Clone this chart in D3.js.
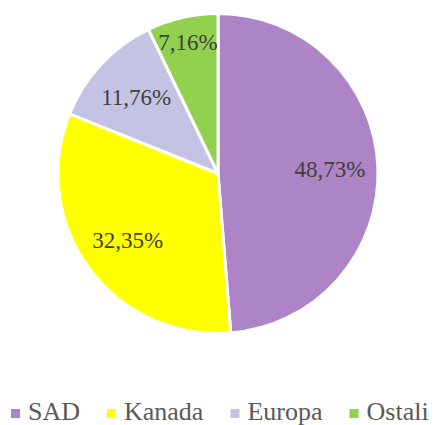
<!DOCTYPE html>
<html>
<head>
<meta charset="utf-8">
<script src="https://cdn.jsdelivr.net/npm/d3@7"></script>
<style>
  body { margin: 0; background: #fff; }
  svg { display: block; }
  svg text { font-family: 'Liberation Serif', serif !important; }
</style>
</head>
<body>
<svg width="438" height="425">
  <g id="pie" transform="translate(218,173.5)">
    <g class="slices"></g>
    <g class="labels">
      <text font-family="Liberation Serif" font-size="23">0</text>
      <text font-family="Liberation Serif" font-size="23">0</text>
      <text font-family="Liberation Serif" font-size="23">0</text>
      <text font-family="Liberation Serif" font-size="23">0</text>
    </g>
  </g>
  <g id="legend" transform="translate(11,0)">
    <g class="item"><rect></rect><text font-family="Liberation Serif" font-size="26">A</text></g>
    <g class="item"><rect></rect><text font-family="Liberation Serif" font-size="26">A</text></g>
    <g class="item"><rect></rect><text font-family="Liberation Serif" font-size="26">A</text></g>
    <g class="item"><rect></rect><text font-family="Liberation Serif" font-size="26">A</text></g>
  </g>
</svg>
<script>
const categories = ['SAD', 'Kanada', 'Europa', 'Ostali'];
const values = [48.73, 32.35, 11.76, 7.16];
const labels = ['48,73%', '32,35%', '11,76%', '7,16%'];
const colors = ['#ad84c6', '#ffff00', '#c5c3e4', '#92d050'];

const svg = d3.select('svg');
const radius = 160;
const serif = "'Liberation Serif', serif";

const data = categories.map((c, i) => ({ name: c, value: values[i], label: labels[i] }));

const pie = d3.pie().value(d => d.value).sort(null);
const arc = d3.arc().innerRadius(0).outerRadius(radius);
const color = d3.scaleOrdinal(categories, colors);

const arcs = pie(data);

svg.select('#pie .slices').selectAll('path')
  .data(arcs)
  .enter()
  .append('path')
  .attr('d', arc)
  .attr('fill', d => color(d.data.name))
  .attr('stroke', '#fff')
  .attr('stroke-width', 3)
  .attr('stroke-linejoin', 'round');

// label radius: narrow slice gets pushed outward
const labelRadius = d => (d.endAngle - d.startAngle < 0.5 ? 135 : 112);

svg.select('#pie .labels').selectAll('text')
  .data(arcs)
  .attr('transform', d => {
    const a = (d.startAngle + d.endAngle) / 2;
    const r = labelRadius(d);
    return `translate(${Math.sin(a) * r},${-Math.cos(a) * r})`;
  })
  .attr('text-anchor', 'middle')
  .attr('dy', '0.35em')
  .style('font-family', serif, 'important')
  .attr('fill', '#404040')
  .text(d => d.data.label);

// legend
let x = 0;
svg.select('#legend').selectAll('g.item')
  .data(data)
  .each(function (d) {
    const item = d3.select(this).attr('transform', `translate(${x},0)`);
    item.select('rect')
      .attr('x', 0).attr('y', 409)
      .attr('width', 9).attr('height', 9)
      .attr('fill', color(d.name));
    const t = item.select('text')
      .attr('x', 17).attr('y', 420)
      .style('font-family', serif, 'important')
      .attr('fill', '#595959')
      .text(d.name);
    x += 17 + t.node().getComputedTextLength() + 27;
  });
</script>
</body>
</html>
